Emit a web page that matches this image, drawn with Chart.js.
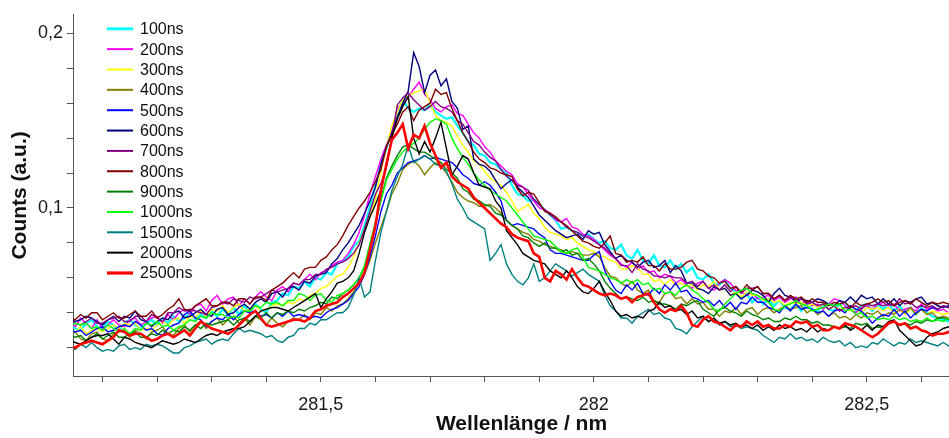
<!DOCTYPE html>
<html>
<head>
<meta charset="utf-8">
<title>Spektren</title>
<script src="https://cdn.jsdelivr.net/npm/chart.js@4.4.1/dist/chart.umd.min.js"></script>
<style>
  html, body { margin: 0; padding: 0; background: #fff; overflow: hidden; }
  /* the plot runs a little past the right window edge */
  #wrap { width: 970px; height: 438px; position: relative; }
</style>
</head>
<body>
<div id="wrap"><canvas id="myChart"></canvas></div>
<script>
//Wavelength grid of the spectrometer in nm
const wavelength = [
  281.04, 281.05, 281.06, 281.07, 281.08, 281.09, 281.10, 281.11, 281.12, 281.13,
  281.14, 281.15, 281.16, 281.17, 281.18, 281.19, 281.20, 281.21, 281.22, 281.23,
  281.24, 281.25, 281.26, 281.27, 281.28, 281.29, 281.30, 281.31, 281.32, 281.33,
  281.34, 281.35, 281.36, 281.37, 281.38, 281.39, 281.40, 281.41, 281.42, 281.43,
  281.44, 281.45, 281.46, 281.47, 281.48, 281.49, 281.50, 281.51, 281.52, 281.53,
  281.54, 281.55, 281.56, 281.57, 281.58, 281.59, 281.60, 281.61, 281.62, 281.63,
  281.64, 281.65, 281.66, 281.67, 281.68, 281.69, 281.70, 281.71, 281.72, 281.73,
  281.74, 281.75, 281.76, 281.77, 281.78, 281.79, 281.80, 281.81, 281.82, 281.83,
  281.84, 281.85, 281.86, 281.87, 281.88, 281.89, 281.90, 281.91, 281.92, 281.93,
  281.94, 281.95, 281.96, 281.97, 281.98, 281.99, 282.00, 282.01, 282.02, 282.03,
  282.04, 282.05, 282.06, 282.07, 282.08, 282.09, 282.10, 282.11, 282.12, 282.13,
  282.14, 282.15, 282.16, 282.17, 282.18, 282.19, 282.20, 282.21, 282.22, 282.23,
  282.24, 282.25, 282.26, 282.27, 282.28, 282.29, 282.30, 282.31, 282.32, 282.33,
  282.34, 282.35, 282.36, 282.37, 282.38, 282.39, 282.40, 282.41, 282.42, 282.43,
  282.44, 282.45, 282.46, 282.47, 282.48, 282.49, 282.50, 282.51, 282.52, 282.53,
  282.54, 282.55, 282.56, 282.57, 282.58, 282.59, 282.60, 282.61, 282.62, 282.63,
  282.64, 282.65, 282.66, 282.67, 282.68, 282.69
];

//Counts for every gate delay, stored in units of 0.001 a.u.
const countUnit = 0.001;

const c100ns = [
  34, 31, 30, 34, 36, 32, 31, 35, 33, 30,
  34, 36, 33, 31, 34, 36, 33, 37, 34, 38,
  35, 37, 40, 36, 39, 37, 41, 38, 42, 39,
  43, 39, 44, 40, 45, 42, 40, 46, 47, 51,
  50, 55, 54, 58, 55, 60, 59, 63, 62, 68,
  70, 72, 78, 81, 90, 101, 113, 125, 134, 145,
  152, 162, 157, 155, 157, 156, 159, 155, 153, 151,
  152, 147, 143, 138, 136, 131, 130, 126, 125, 122,
  120, 113, 108, 107, 104, 105, 102, 99, 96, 93,
  88, 89, 87, 86, 84, 85, 82, 80, 81, 77,
  76, 79, 73, 71, 76, 70, 68, 73, 67, 66,
  70, 65, 68, 63, 66, 60, 59, 62, 57, 56,
  59, 54, 52, 48, 51, 46, 49, 45, 48, 44,
  47, 43, 42, 45, 41, 45, 42, 41, 45, 42,
  41, 45, 46, 42, 41, 44, 45, 41, 45, 42,
  45, 41, 44, 40, 43, 39, 43, 40, 38, 37,
  36, 35, 37, 36, 35, 34
];

const c200ns = [
  35, 32, 37, 34, 31, 36, 31, 33, 36, 33,
  32, 36, 37, 33, 35, 37, 38, 34, 39, 36,
  40, 42, 39, 44, 45, 41, 47, 50, 45, 48,
  49, 44, 48, 45, 49, 52, 49, 47, 53, 55,
  52, 57, 56, 59, 62, 59, 63, 64, 67, 69,
  70, 74, 79, 86, 96, 108, 118, 128, 136, 144,
  157, 160, 163, 168, 172, 165, 162, 157, 155, 158,
  159, 154, 153, 148, 143, 140, 135, 132, 127, 124,
  121, 119, 114, 112, 108, 104, 100, 99, 97, 93,
  92, 94, 89, 88, 85, 84, 82, 79, 76, 73,
  71, 68, 66, 69, 65, 67, 63, 64, 60, 62,
  61, 57, 59, 56, 54, 57, 58, 54, 53, 57,
  59, 57, 53, 52, 50, 51, 48, 49, 50, 47,
  49, 46, 48, 49, 45, 47, 44, 45, 42, 45,
  48, 47, 44, 42, 40, 43, 44, 42, 45, 46,
  44, 45, 41, 42, 43, 41, 45, 42, 43, 41,
  42, 40, 41, 43, 42, 41
];

const c300ns = [
  31, 29, 32, 28, 30, 31, 29, 31, 33, 31,
  34, 33, 34, 30, 31, 30, 33, 35, 33, 36,
  37, 34, 38, 37, 41, 38, 42, 41, 44, 40,
  43, 45, 41, 42, 44, 41, 42, 44, 45, 44,
  46, 45, 48, 47, 50, 51, 54, 55, 58, 61,
  62, 66, 72, 80, 88, 95, 105, 121, 135, 147,
  155, 162, 164, 166, 167, 168, 160, 153, 150, 149,
  147, 141, 136, 132, 127, 125, 121, 117, 115, 113,
  109, 104, 98, 100, 102, 97, 94, 89, 86, 85,
  84, 82, 83, 80, 78, 76, 75, 73, 72, 70,
  69, 65, 65, 67, 66, 62, 62, 58, 59, 56,
  59, 56, 57, 55, 56, 53, 56, 55, 58, 53,
  54, 50, 52, 49, 52, 50, 50, 47, 48, 46,
  47, 44, 46, 45, 46, 44, 45, 43, 45, 42,
  44, 42, 43, 41, 42, 40, 43, 42, 43, 41,
  43, 40, 42, 39, 42, 40, 42, 39, 41, 40,
  39, 40, 38, 40, 39, 38
];

const c400ns = [
  27, 29, 25, 24, 28, 29, 25, 24, 28, 29,
  30, 26, 30, 28, 25, 29, 30, 32, 28, 27,
  31, 33, 29, 33, 35, 31, 35, 37, 33, 36,
  38, 34, 37, 33, 38, 36, 33, 37, 34, 32,
  35, 37, 36, 39, 36, 40, 39, 43, 41, 44,
  45, 48, 52, 57, 62, 70, 80, 89, 98, 108,
  114, 122, 125, 127, 124, 119, 123, 126, 124, 120,
  115, 109, 106, 104, 103, 101, 101, 102, 100, 97,
  93, 90, 88, 86, 85, 82, 81, 79, 78, 77,
  76, 74, 75, 74, 73, 73, 74, 72, 66, 61,
  60, 57, 55, 58, 53, 51, 53, 47, 46, 51,
  52, 48, 49, 45, 48, 45, 46, 42, 42, 38,
  41, 40, 43, 39, 42, 43, 39, 42, 43, 40,
  42, 44, 42, 43, 44, 40, 42, 39, 41, 38,
  40, 37, 38, 36, 39, 37, 40, 39, 41, 38,
  40, 39, 42, 40, 43, 39, 42, 39, 40, 37,
  38, 37, 38, 36, 37, 38
];

const c500ns = [
  31, 29, 30, 27, 29, 31, 32, 29, 30, 32,
  33, 32, 35, 33, 30, 31, 28, 27, 31, 33,
  34, 39, 41, 37, 36, 32, 35, 37, 36, 39,
  36, 39, 41, 40, 41, 38, 39, 37, 40, 38,
  41, 38, 39, 38, 37, 38, 37, 40, 42, 43,
  45, 47, 51, 55, 62, 72, 84, 98, 108, 113,
  120, 123, 126, 127, 128, 130, 128, 129, 128, 127,
  126, 123, 119, 117, 114, 113, 115, 113, 109, 104,
  93, 90, 91, 90, 89, 88, 85, 83, 76, 74,
  74, 73, 72, 71, 70, 70, 73, 75, 64, 58,
  53, 51, 56, 53, 57, 51, 50, 54, 51, 56,
  53, 57, 52, 53, 49, 48, 46, 47, 44, 47,
  43, 46, 42, 46, 45, 49, 46, 46, 43, 42,
  40, 44, 41, 45, 42, 43, 42, 40, 41, 38,
  41, 42, 40, 44, 42, 41, 38, 34, 37, 39,
  38, 42, 38, 41, 37, 40, 42, 41, 43, 42,
  44, 43, 42, 44, 43, 42
];

const c600ns = [
  37, 35, 36, 38, 37, 35, 33, 36, 38, 35,
  38, 37, 41, 36, 35, 32, 35, 37, 36, 40,
  41, 37, 38, 40, 42, 39, 38, 42, 43, 39,
  40, 43, 45, 42, 46, 48, 46, 51, 52, 49,
  54, 55, 53, 58, 57, 61, 62, 63, 68, 71,
  76, 80, 85, 90, 97, 104, 112, 125, 135, 143,
  152, 160, 167, 189, 181, 166, 176, 179, 170, 174,
  161, 157, 145, 147, 128, 125, 124, 121, 116, 111,
  114, 116, 112, 109, 106, 101, 96, 93, 90, 87,
  85, 83, 84, 85, 82, 87, 85, 86, 79, 75,
  71, 73, 70, 69, 66, 69, 70, 66, 67, 70,
  63, 67, 64, 57, 57, 54, 53, 51, 55, 53,
  54, 50, 51, 48, 50, 53, 52, 50, 46, 51,
  54, 50, 49, 47, 48, 47, 46, 48, 47, 45,
  44, 47, 46, 49, 46, 50, 48, 49, 45, 48,
  45, 48, 44, 47, 46, 48, 49, 45, 46, 44,
  43, 44, 45, 43, 44, 45
];

const c700ns = [
  36, 34, 33, 35, 37, 34, 34, 36, 37, 38,
  35, 35, 38, 38, 35, 39, 37, 35, 40, 40,
  43, 41, 42, 41, 40, 39, 43, 44, 46, 45,
  48, 47, 46, 49, 48, 49, 51, 53, 52, 53,
  54, 57, 56, 59, 59, 62, 62, 65, 66, 68,
  69, 71, 74, 79, 88, 98, 108, 114, 123, 140,
  159, 163, 166, 162, 159, 156, 158, 161, 158, 157,
  155, 150, 148, 143, 138, 136, 132, 129, 127, 122,
  118, 116, 113, 112, 110, 105, 102, 99, 96, 94,
  92, 89, 87, 86, 84, 83, 81, 79, 77, 74,
  71, 67, 67, 63, 68, 65, 64, 61, 61, 60,
  61, 60, 60, 57, 58, 55, 58, 54, 56, 53,
  56, 52, 55, 51, 54, 54, 55, 51, 51, 48,
  50, 47, 49, 46, 48, 45, 46, 44, 45, 42,
  44, 41, 43, 43, 44, 42, 45, 44, 45, 44,
  45, 44, 48, 45, 46, 43, 44, 43, 44, 42,
  44, 43, 42, 44, 43, 42
];

const c800ns = [
  37, 36, 39, 37, 40, 40, 36, 38, 40, 37,
  37, 39, 41, 38, 38, 41, 37, 39, 42, 44,
  48, 42, 41, 44, 46, 48, 44, 44, 46, 46,
  44, 48, 48, 45, 49, 49, 47, 53, 55, 57,
  60, 63, 60, 65, 66, 66, 70, 72, 76, 79,
  84, 90, 95, 100, 104, 109, 115, 122, 135, 142,
  148, 155, 158, 150, 156, 158, 160, 168, 165, 166,
  157, 150, 143, 138, 132, 128, 126, 123, 122, 120,
  119, 118, 111, 107, 109, 108, 103, 98, 97, 95,
  92, 90, 87, 84, 81, 80, 78, 77, 80, 84,
  74, 73, 69, 70, 69, 72, 67, 67, 64, 68,
  65, 65, 66, 69, 70, 65, 64, 61, 60, 57,
  58, 54, 55, 52, 56, 53, 55, 51, 51, 48,
  50, 47, 50, 48, 49, 46, 48, 46, 46, 44,
  46, 45, 46, 43, 46, 44, 45, 46, 48, 46,
  47, 44, 46, 47, 45, 48, 46, 44, 46, 45,
  46, 45, 47, 46, 45, 46
];

const c900ns = [
  28, 26, 27, 24, 26, 28, 25, 27, 29, 26,
  26, 28, 29, 26, 26, 28, 27, 30, 28, 30,
  29, 32, 30, 33, 31, 34, 33, 34, 35, 36,
  33, 36, 37, 35, 38, 37, 40, 37, 40, 39,
  41, 40, 42, 41, 43, 44, 46, 45, 49, 48,
  51, 53, 56, 60, 66, 76, 90, 105, 117, 124,
  130, 135, 136, 134, 132, 132, 130, 128, 126, 122,
  120, 117, 111, 109, 105, 104, 102, 101, 97, 96,
  93, 90, 88, 84, 83, 80, 78, 80, 77, 77,
  75, 76, 73, 74, 70, 71, 68, 64, 58, 54,
  51, 48, 49, 48, 47, 49, 46, 47, 45, 45,
  44, 42, 45, 44, 46, 47, 42, 40, 38, 42,
  43, 41, 40, 38, 41, 39, 38, 36, 37, 35,
  35, 37, 36, 38, 36, 36, 34, 35, 33, 33,
  32, 31, 32, 31, 34, 33, 34, 31, 32, 31,
  34, 35, 33, 34, 33, 35, 34, 36, 35, 37,
  37, 36, 38, 37, 36, 37
];

const c1000ns = [
  33, 34, 33, 34, 31, 32, 30, 33, 31, 29,
  31, 28, 31, 30, 34, 33, 35, 32, 33, 30,
  32, 33, 36, 35, 38, 37, 40, 39, 39, 37,
  38, 37, 41, 41, 44, 43, 46, 45, 46, 44,
  47, 47, 51, 50, 47, 50, 51, 47, 46, 50,
  51, 53, 56, 60, 67, 80, 92, 104, 116, 122,
  128, 132, 135, 137, 140, 145, 149, 151, 150, 148,
  140, 134, 129, 125, 120, 116, 113, 110, 108, 106,
  104, 100, 96, 92, 88, 84, 83, 82, 81, 78,
  75, 74, 76, 77, 72, 66, 65, 64, 62, 60,
  59, 57, 59, 57, 59, 56, 57, 53, 54, 51,
  52, 50, 54, 56, 53, 51, 48, 46, 42, 41,
  45, 48, 51, 53, 54, 51, 50, 48, 46, 42,
  41, 44, 45, 47, 45, 44, 41, 42, 43, 45,
  44, 45, 41, 42, 39, 40, 37, 38, 36, 37,
  36, 38, 36, 37, 35, 36, 35, 37, 35, 36,
  35, 37, 36, 35, 36, 35
];

const c1500ns = [
  21, 19, 22, 20, 23, 20, 18, 19, 18, 21,
  22, 19, 20, 19, 22, 21, 22, 21, 19, 17,
  17, 20, 21, 23, 24, 25, 22, 24, 25, 24,
  28, 31, 29, 30, 29, 28, 26, 27, 24, 23,
  26, 27, 31, 31, 34, 33, 36, 36, 38, 40,
  40, 43, 50, 60, 49, 52, 70, 86, 98, 110,
  118, 125, 136, 126, 128, 130, 128, 125, 124, 121,
  114, 105, 100, 94, 92, 90, 88, 70, 74, 79,
  68, 62, 58, 56, 60, 68, 58, 60, 64, 68,
  66, 64, 61, 63, 65, 62, 60, 58, 50, 44,
  41, 37, 37, 34, 38, 40, 42, 39, 40, 37,
  36, 31, 30, 28, 32, 35, 38, 35, 36, 33,
  35, 32, 33, 31, 32, 31, 30, 27, 25, 23,
  26, 25, 28, 25, 26, 24, 25, 23, 26, 24,
  23, 24, 21, 23, 20, 21, 20, 23, 22, 25,
  23, 21, 23, 22, 25, 23, 24, 23, 22, 21,
  23, 21, 22, 23, 21, 22
];

const c2000ns = [
  24, 23, 22, 24, 26, 27, 27, 28, 25, 22,
  26, 25, 23, 22, 21, 20, 22, 24, 23, 22,
  23, 25, 24, 23, 25, 27, 28, 27, 29, 30,
  31, 31, 32, 35, 38, 41, 42, 43, 43, 42,
  41, 43, 45, 47, 49, 51, 43, 48, 52, 57,
  58, 60, 64, 74, 86, 95, 102, 110, 125, 140,
  151, 158, 164, 140, 131, 138, 132, 140, 149, 134,
  119, 124, 130, 128, 120, 113, 112, 111, 104, 100,
  87, 83, 79, 74, 72, 70, 69, 68, 64, 62,
  60, 64, 60, 55, 52, 51, 54, 58, 52, 47,
  41, 38, 39, 37, 38, 37, 41, 42, 46, 43,
  44, 41, 42, 39, 41, 37, 38, 35, 37, 34,
  35, 33, 34, 32, 33, 31, 33, 30, 32, 30,
  33, 31, 32, 30, 31, 29, 32, 29, 31, 30,
  32, 31, 33, 30, 32, 30, 33, 30, 33, 32,
  35, 36, 30, 27, 24, 21, 22, 26, 28, 29,
  31, 32, 30, 31, 32, 30
];

const c2500ns = [
  21, 20, 22, 23, 24, 23, 22, 24, 26, 30,
  29, 27, 28, 28, 26, 24, 25, 27, 28, 26,
  28, 30, 27, 31, 35, 33, 31, 30, 29, 28,
  30, 33, 36, 39, 41, 37, 33, 32, 33, 34,
  35, 36, 36, 35, 37, 41, 42, 44, 45, 46,
  49, 51, 54, 57, 63, 76, 90, 110, 125, 139,
  143, 148, 134, 142, 140, 147, 137, 130, 123, 126,
  118, 115, 113, 111, 106, 103, 100, 97, 94, 91,
  89, 85, 83, 82, 81, 74, 72, 60, 58, 64,
  62, 59, 65, 60, 56, 55, 53, 51, 50, 51,
  50, 48, 49, 46, 49, 50, 51, 46, 42, 40,
  42, 41, 44, 40, 33, 32, 36, 38, 35, 34,
  32, 30, 33, 32, 35, 33, 35, 32, 33, 31,
  31, 33, 32, 35, 34, 35, 32, 33, 30, 30,
  32, 31, 34, 33, 32, 30, 28, 26, 28, 31,
  34, 35, 33, 34, 31, 32, 30, 29, 27, 28,
  28, 29, 28, 27, 29, 28
];

//Series order, names and line styles
const seriesData = [c100ns, c200ns, c300ns, c400ns, c500ns, c600ns, c700ns,
                    c800ns, c900ns, c1000ns, c1500ns, c2000ns, c2500ns];
const delayLabels = ['100ns', '200ns', '300ns', '400ns', '500ns', '600ns', '700ns',
                     '800ns', '900ns', '1000ns', '1500ns', '2000ns', '2500ns'];
const lineColors = ['#00ffff', '#ff00ff', '#ffff00', '#808000', '#0000ff', '#000080', '#800080',
                    '#800000', '#008000', '#00ff00', '#008080', '#000000', '#ff0000'];
const lineWidths = [2.2, 1.4, 1.4, 1.4, 1.4, 1.4, 1.4, 1.4, 1.4, 1.4, 1.4, 1.4, 2.6];

//Axis ticks and the few that get a label
const xTicks = [281.1, 281.2, 281.3, 281.4, 281.5, 281.6, 281.7, 281.8,
                281.9, 282.0, 282.1, 282.2, 282.3, 282.4, 282.5, 282.6];
const xLabelValues = [281.5, 282, 282.5];
const xLabelTexts = ['281,5', '282', '282,5'];
const yTicks = [0.02, 0.04, 0.06, 0.08, 0.10, 0.12, 0.14, 0.16, 0.18, 0.20];
const yLabelValues = [0.1, 0.2];
const yLabelTexts = ['0,1', '0,2'];

function labelFor(value, values, texts)
{
    const k = values.findIndex(v => Math.abs(v - value) < 1e-6);
    return k < 0 ? '' : texts[k];
}

//Legend in the upper left corner of the plot area
const legendBox = {
    id: 'legendBox',
    afterDraw(chart)
    {
        const ctx = chart.ctx;
        const area = chart.chartArea;
        ctx.save();
        ctx.font = '16px "Liberation Sans", Arial, sans-serif';
        ctx.textBaseline = 'middle';
        ctx.textAlign = 'left';
        chart.data.datasets.forEach((ds, i) => {
            const y = area.top + 14 + i * 20.35;
            ctx.strokeStyle = ds.borderColor;
            ctx.lineWidth = ds.borderWidth + 0.6;
            ctx.beginPath();
            ctx.moveTo(area.left + 34, y);
            ctx.lineTo(area.left + 60, y);
            ctx.stroke();
            ctx.fillStyle = '#111';
            ctx.fillText(ds.label, area.left + 67, y + 1);
        });
        ctx.restore();
    }
};

const datasets = seriesData.map((series, i) => ({
    label: delayLabels[i],
    data: series.map((v, k) => ({ x: wavelength[k], y: v * countUnit })),
    borderColor: lineColors[i],
    backgroundColor: lineColors[i],
    borderWidth: lineWidths[i],
    pointRadius: 0,
    tension: 0,
    fill: false,
    order: seriesData.length - 1 - i
}));

const ctx = document.getElementById('myChart').getContext('2d');
Chart.defaults.font.family = '"Liberation Sans", Arial, sans-serif';

const myChart = new Chart(ctx, {
    type: 'line',
    data: { datasets: datasets },
    options: {
        responsive: true,
        maintainAspectRatio: false,
        animation: false,
        devicePixelRatio: 1,
        layout: { padding: { top: 12, right: 0, left: 0, bottom: 0 } },
        plugins: {
            legend: { display: false },
            tooltip: { enabled: false }
        },
        scales: {
            x: {
                type: 'linear',
                min: 281.046,
                max: 282.689,
                afterBuildTicks: scale => { scale.ticks = xTicks.map(v => ({ value: v })); },
                afterFit: scale => { scale.height = 62; },
                ticks: {
                    autoSkip: false,
                    maxRotation: 0,
                    padding: 12,
                    color: '#1a1a1a',
                    font: { size: 18 },
                    callback: value => labelFor(value, xLabelValues, xLabelTexts)
                },
                grid: { drawOnChartArea: false, drawTicks: true, tickLength: 6, color: '#555', lineWidth: 1 },
                border: { display: true, color: '#555', width: 1 },
                title: {
                    display: true,
                    text: 'Wellenlänge / nm',
                    color: '#111',
                    font: { size: 21, weight: 'bold' },
                    padding: { top: 0, bottom: 1 }
                }
            },
            y: {
                type: 'linear',
                min: 0.0038,
                max: 0.2106,
                afterBuildTicks: scale => { scale.ticks = yTicks.map(v => ({ value: v })); },
                afterFit: scale => { scale.width = 73; },
                ticks: {
                    autoSkip: false,
                    padding: 4,
                    color: '#1a1a1a',
                    font: { size: 18 },
                    callback: value => labelFor(value, yLabelValues, yLabelTexts)
                },
                grid: { drawOnChartArea: false, drawTicks: true, tickLength: 6, color: '#555', lineWidth: 1 },
                border: { display: true, color: '#555', width: 1 },
                title: {
                    display: true,
                    text: 'Counts (a.u.)',
                    color: '#111',
                    font: { size: 21, weight: 'bold' },
                    padding: { top: 8, bottom: 0 }
                }
            }
        }
    },
    plugins: [legendBox]
});
</script>
</body>
</html>
